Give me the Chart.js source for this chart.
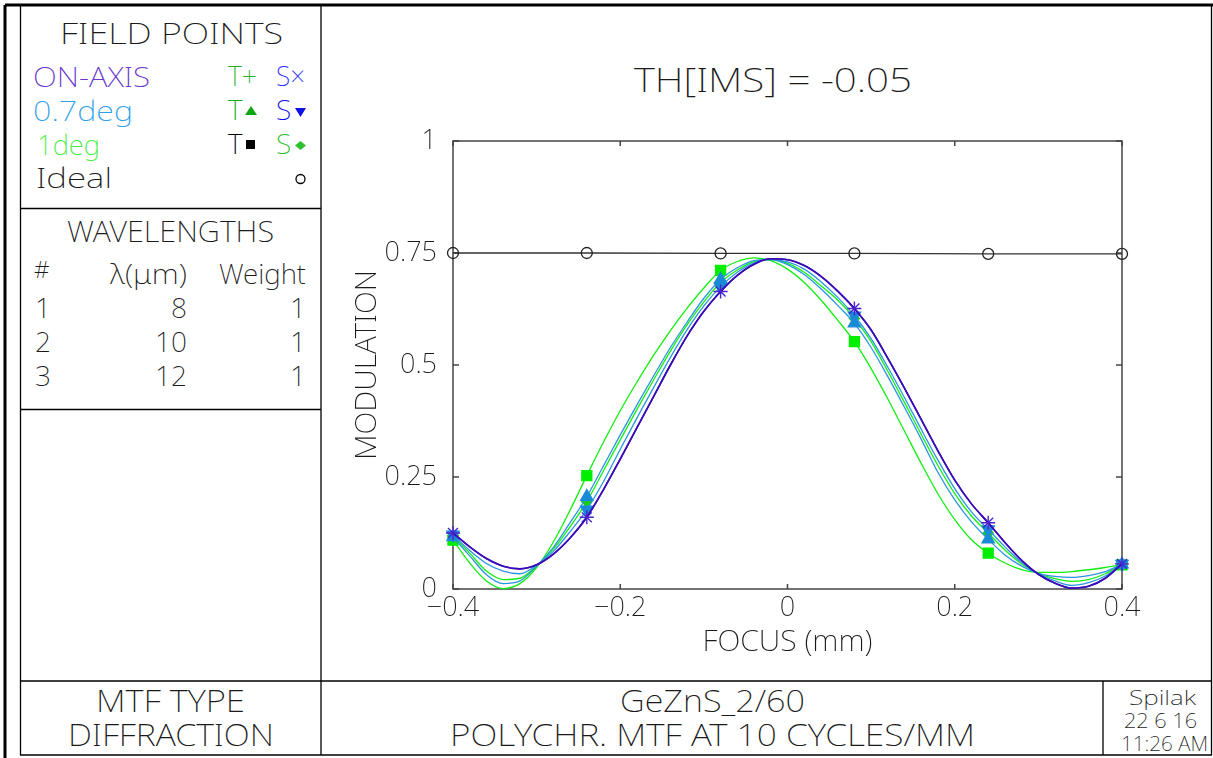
<!DOCTYPE html>
<html>
<head>
<meta charset="utf-8">
<title>Polychromatic MTF through focus</title>
<script src="https://cdn.jsdelivr.net/npm/chart.js@4.4.0/dist/chart.umd.min.js"></script>
<style>
    html, body { margin: 0; padding: 0; background: #fff; }
    #sheet { position: relative; width: 1213px; height: 758px; overflow: hidden; }
    #frame { position: absolute; left: 0; top: 0; }
    #plot { position: absolute; left: 322px; top: 6px; }
    svg text { font-family: "Noto Sans", Roboto, sans-serif; font-weight: 200; fill: #1a1a1a; }
</style>
</head>
<body>
<div id="sheet">
<svg id="frame" width="1213" height="758">
    <g stroke="#000" fill="none">
        <line x1="5" y1="5" x2="1213" y2="5" stroke-width="3"/>
        <line x1="5" y1="5" x2="5" y2="758" stroke-width="3"/>
        <line x1="20.5" y1="5" x2="20.5" y2="755" stroke-width="1.3"/>
        <line x1="321" y1="5" x2="321" y2="755" stroke-width="1.3"/>
        <line x1="1211.5" y1="5" x2="1211.5" y2="755" stroke-width="1.3"/>
        <line x1="20" y1="208.5" x2="321" y2="208.5" stroke-width="1.3"/>
        <line x1="20" y1="409.5" x2="321" y2="409.5" stroke-width="1.3"/>
        <line x1="20" y1="681" x2="1212" y2="681" stroke-width="1.3"/>
        <line x1="20" y1="755" x2="1212" y2="755" stroke-width="1.3"/>
        <line x1="1103" y1="681" x2="1103" y2="755" stroke-width="1.3"/>
    </g>

    <!-- field points key -->
    <text x="60" y="44" font-size="30" textLength="223" lengthAdjust="spacingAndGlyphs">FIELD POINTS</text>
    <text x="33" y="87" font-size="28" textLength="117" lengthAdjust="spacingAndGlyphs" style="fill:#6a35d0">ON-AXIS</text>
    <text x="33" y="121" font-size="28" textLength="100" lengthAdjust="spacingAndGlyphs" style="fill:#2fa0e8">0.7deg</text>
    <text x="37" y="155" font-size="28" textLength="63" lengthAdjust="spacingAndGlyphs" style="fill:#44ee44">1deg</text>
    <text x="36" y="188" font-size="28" textLength="76" lengthAdjust="spacingAndGlyphs">Ideal</text>

    <text x="228" y="86" font-size="28" textLength="29" lengthAdjust="spacingAndGlyphs" style="fill:#20b020">T+</text>
    <text x="276" y="86" font-size="28" textLength="29" lengthAdjust="spacingAndGlyphs" style="fill:#3030ff">S×</text>
    <text x="228" y="120" font-size="28" style="fill:#10a810">T</text>
    <polygon points="251,106 257,115 245,115" fill="#10a810"/>
    <text x="276" y="120" font-size="28" style="fill:#1010e8">S</text>
    <polygon points="295,108 306,108 300.5,117" fill="#1010e8"/>
    <text x="228" y="154" font-size="28" style="fill:#000">T</text>
    <rect x="246" y="140" width="9" height="9" fill="#000"/>
    <text x="276" y="154" font-size="28" style="fill:#30c030">S</text>
    <polygon points="300.5,141 306,145.5 300.5,150 295,145.5" fill="#30c030"/>
    <circle cx="300.5" cy="179" r="4.5" fill="none" stroke="#000" stroke-width="1.3"/>

    <!-- wavelength table -->
    <text x="67" y="242" font-size="30" textLength="207" lengthAdjust="spacingAndGlyphs">WAVELENGTHS</text>
    <text x="34" y="278" font-size="24">#</text>
    <text x="110" y="284" font-size="28" textLength="77" lengthAdjust="spacingAndGlyphs">λ(μm)</text>
    <text x="219" y="284" font-size="28" textLength="87" lengthAdjust="spacingAndGlyphs">Weight</text>
    <text x="35" y="318" font-size="28">1</text>
    <text x="187" y="318" font-size="28" text-anchor="end">8</text>
    <text x="306" y="318" font-size="28" text-anchor="end">1</text>
    <text x="35" y="352" font-size="28">2</text>
    <text x="187" y="352" font-size="28" text-anchor="end">10</text>
    <text x="306" y="352" font-size="28" text-anchor="end">1</text>
    <text x="35" y="386" font-size="28">3</text>
    <text x="187" y="386" font-size="28" text-anchor="end">12</text>
    <text x="306" y="386" font-size="28" text-anchor="end">1</text>

    <!-- plot heading -->
    <text x="634" y="92" font-size="33" textLength="278" lengthAdjust="spacingAndGlyphs">TH[IMS] = -0.05</text>

    <!-- title block -->
    <text x="96" y="712" font-size="32" textLength="149" lengthAdjust="spacingAndGlyphs">MTF TYPE</text>
    <text x="68" y="746" font-size="32" textLength="206" lengthAdjust="spacingAndGlyphs">DIFFRACTION</text>
    <text x="620" y="712" font-size="32" textLength="185" lengthAdjust="spacingAndGlyphs">GeZnS_2/60</text>
    <text x="450" y="746" font-size="32" textLength="525" lengthAdjust="spacingAndGlyphs">POLYCHR. MTF AT 10 CYCLES/MM</text>
    <text x="1129" y="705" font-size="21" textLength="67" lengthAdjust="spacingAndGlyphs">Spilak</text>
    <text x="1124" y="728" font-size="21" textLength="73" lengthAdjust="spacingAndGlyphs">22 6 16</text>
    <text x="1121" y="751" font-size="21" textLength="87" lengthAdjust="spacingAndGlyphs">11:26 AM</text>
</svg>
<canvas id="plot" width="888" height="674"></canvas>
</div>

<script>
// focus shift (mm) of each computed sample
const focusMm = [-0.40, -0.38, -0.36, -0.34, -0.32, -0.30, -0.28, -0.26, -0.24, -0.22,
                 -0.20, -0.18, -0.16, -0.14, -0.12, -0.10, -0.08, -0.06, -0.04, -0.02,
                  0.00,  0.02,  0.04,  0.06,  0.08,  0.10,  0.12,  0.14,  0.16,  0.18,
                  0.20,  0.22,  0.24,  0.26,  0.28,  0.30,  0.32,  0.34,  0.36,  0.38, 0.40];

// on-axis: tangential and sagittal are the same curve
const onAxis = [0.125, 0.094, 0.068, 0.051, 0.045, 0.054, 0.078, 0.114, 0.160, 0.222,
                0.290, 0.360, 0.430, 0.500, 0.565, 0.620, 0.664, 0.700, 0.725, 0.737,
                0.735, 0.722, 0.698, 0.665, 0.626, 0.578, 0.515, 0.448, 0.378, 0.308,
                0.243, 0.190, 0.148, 0.104, 0.064, 0.033, 0.013, 0.002, 0.006, 0.024, 0.056];

const deg07Tan = [0.116, 0.074, 0.032, 0.012, 0.018, 0.051, 0.093, 0.148, 0.206, 0.275,
                  0.344, 0.411, 0.476, 0.539, 0.596, 0.649, 0.691, 0.717, 0.733, 0.735,
                  0.724, 0.702, 0.670, 0.633, 0.593, 0.539, 0.474, 0.405, 0.334, 0.260,
                  0.199, 0.150, 0.111, 0.076, 0.051, 0.035, 0.028, 0.026, 0.030, 0.039, 0.055];

const deg07Sag = [0.121, 0.086, 0.057, 0.040, 0.034, 0.053, 0.084, 0.128, 0.177, 0.240,
                  0.312, 0.382, 0.450, 0.517, 0.579, 0.632, 0.675, 0.707, 0.728, 0.736,
                  0.730, 0.714, 0.686, 0.651, 0.610, 0.559, 0.495, 0.427, 0.356, 0.287,
                  0.224, 0.172, 0.133, 0.094, 0.059, 0.034, 0.018, 0.008, 0.014, 0.029, 0.056];

const deg1Tan = [0.109, 0.058, 0.018, 0.001, 0.012, 0.048, 0.105, 0.176, 0.253, 0.328,
                 0.398, 0.462, 0.522, 0.577, 0.627, 0.672, 0.711, 0.731, 0.739, 0.733,
                 0.714, 0.684, 0.645, 0.600, 0.552, 0.492, 0.424, 0.352, 0.280, 0.212,
                 0.155, 0.110, 0.080, 0.058, 0.043, 0.037, 0.037, 0.039, 0.043, 0.048, 0.054];

const deg1Sag = [0.119, 0.080, 0.040, 0.021, 0.024, 0.052, 0.089, 0.139, 0.195, 0.264,
                 0.333, 0.401, 0.467, 0.531, 0.590, 0.641, 0.684, 0.712, 0.731, 0.735,
                 0.727, 0.707, 0.677, 0.645, 0.604, 0.552, 0.486, 0.416, 0.345, 0.275,
                 0.213, 0.163, 0.125, 0.087, 0.056, 0.035, 0.023, 0.017, 0.021, 0.034, 0.055];

// diffraction limit, only evaluated at the marker positions
const idealFocus = [-0.40, -0.24, -0.08, 0.08, 0.24, 0.40];
const ideal = [0.750, 0.750, 0.749, 0.749, 0.748, 0.748];

const xTicks = [-0.4, -0.2, 0, 0.2, 0.4];
const yTicks = [0, 0.25, 0.5, 0.75, 1];

const markEvery = 8;

function fmtTick(v) {
    const r = Math.round(v * 100) / 100;
    return r < 0 ? '\u2212' + Math.abs(r) : String(r);
}

function curve(label, values, color, width, style, markColor, radius, rotation) {
    return {
        label: label,
        data: values.map((v, i) => ({ x: focusMm[i], y: v })),
        borderColor: color,
        borderWidth: width,
        cubicInterpolationMode: 'monotone',
        pointStyle: style,
        pointRotation: rotation || 0,
        pointRadius: ctx => (ctx.dataIndex % markEvery === 0 ? radius : 0),
        pointBackgroundColor: markColor,
        pointBorderColor: markColor,
        pointBorderWidth: 1.4,
        clip: 14
    };
}

// plot frame with inward tick marks on all four sides
const frameBox = {
    id: 'frameBox',
    beforeDatasetsDraw(chart) {
        const { ctx, chartArea: a, scales } = chart;
        ctx.save();
        ctx.strokeStyle = '#444';
        ctx.lineWidth = 1.5;
        ctx.strokeRect(a.left, a.top, a.right - a.left, a.bottom - a.top);
        ctx.beginPath();
        xTicks.forEach(t => {
            const px = scales.x.getPixelForValue(t);
            ctx.moveTo(px, a.bottom); ctx.lineTo(px, a.bottom - 5);
            ctx.moveTo(px, a.top); ctx.lineTo(px, a.top + 5);
        });
        yTicks.forEach(t => {
            const py = scales.y.getPixelForValue(t);
            ctx.moveTo(a.left, py); ctx.lineTo(a.left + 6, py);
            ctx.moveTo(a.right, py); ctx.lineTo(a.right - 6, py);
        });
        ctx.stroke();
        ctx.restore();
    }
};

Chart.defaults.font.family = '"Noto Sans", Roboto, sans-serif';
Chart.defaults.font.weight = '200';
Chart.defaults.color = '#1a1a1a';

const purple = '#3a0cb8';
const sky = '#2a95e0';
const lime = '#11ee11';

new Chart(document.getElementById('plot'), {
    type: 'line',
    data: {
        datasets: [
            curve('ON-AXIS T', onAxis, purple, 1.6, 'cross', '#5020c8', 7),
            curve('ON-AXIS S', onAxis, purple, 1.6, 'crossRot', '#3a2ad8', 7),
            curve('0.7deg S', deg07Sag, sky, 1.3, 'triangle', '#1a8ad8', 7, 180),
            curve('0.7deg T', deg07Tan, sky, 1.3, 'triangle', '#1a8ad8', 7),
            curve('1deg S', deg1Sag, lime, 1.3, 'rectRot', '#18cc18', 5),
            curve('1deg T', deg1Tan, lime, 1.3, 'rect', '#00ee00', 7),
            {
                label: 'Ideal',
                data: ideal.map((v, i) => ({ x: idealFocus[i], y: v })),
                borderColor: '#333',
                borderWidth: 1.3,
                pointStyle: 'circle',
                pointRadius: 5.5,
                pointBackgroundColor: 'rgba(0,0,0,0)',
                pointBorderColor: '#222',
                pointBorderWidth: 1.3,
                clip: 14
            }
        ]
    },
    options: {
        responsive: false,
        animation: false,
        devicePixelRatio: 1,
        events: [],
        layout: { padding: { left: 0, top: 135, right: 88, bottom: 11 } },
        plugins: { legend: { display: false }, tooltip: { enabled: false } },
        scales: {
            x: {
                type: 'linear',
                min: -0.4,
                max: 0.4,
                afterFit: scale => { scale.height = 80; },
                afterBuildTicks: scale => { scale.ticks = xTicks.map(v => ({ value: v })); },
                grid: { display: false, drawTicks: false },
                border: { display: false },
                ticks: { padding: 3, font: { size: 27 }, callback: fmtTick, maxRotation: 0 },
                title: { display: true, text: 'FOCUS (mm)', font: { size: 30 }, padding: { top: 0, bottom: 9 } }
            },
            y: {
                min: 0,
                max: 1,
                afterFit: scale => { scale.width = 131; },
                afterBuildTicks: scale => { scale.ticks = yTicks.map(v => ({ value: v })); },
                grid: { display: false, drawTicks: false },
                border: { display: false },
                ticks: { padding: 16, font: { size: 27 }, callback: fmtTick },
                title: { display: true, text: 'MODULATION', font: { size: 30 }, padding: { top: 27, bottom: 0 } }
            }
        }
    },
    plugins: [frameBox]
});
</script>
</body>
</html>
